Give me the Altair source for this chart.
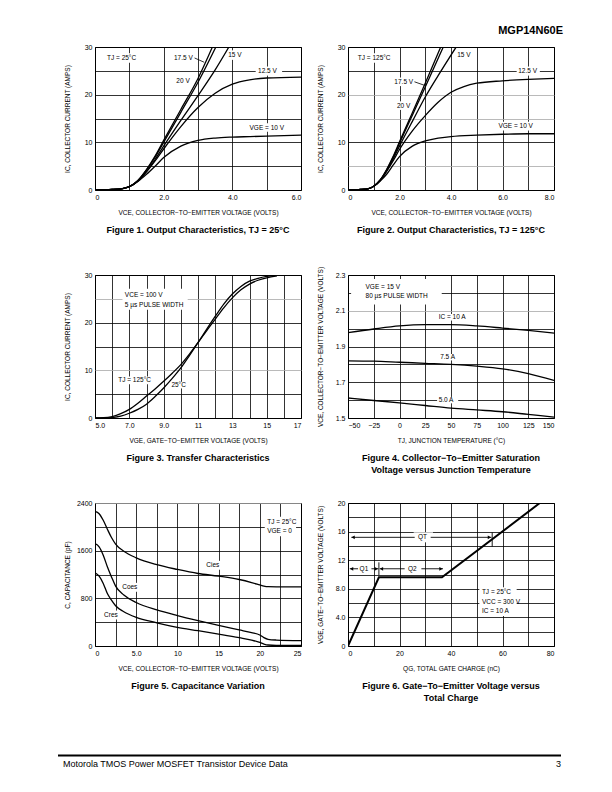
import altair as alt
import pandas as pd

FONT = "Liberation Sans"
W, H = 206, 143

# ---------------- Figure 1: Output characteristics, TJ = 25 C ----------------
f1_20_x = [0, 0.5, 0.8, 1.0, 1.25, 1.5, 1.75, 2.0, 2.5, 3.0, 3.42]
f1_20_y = [0, 0.1, 0.3, 0.7, 2.0, 4.3, 7.1, 10.4, 16.9, 23.4, 30]
f1_175_x = [0, 0.5, 0.8, 1.0, 1.25, 1.5, 1.75, 2.0, 2.5, 3.0, 3.52]
f1_175_y = [0, 0.1, 0.3, 0.7, 2.0, 4.2, 6.9, 10.0, 16.3, 22.6, 30]
f1_15_x = [0, 0.5, 0.8, 1.0, 1.25, 1.5, 1.75, 2.0, 2.5, 3.0, 3.5, 3.9]
f1_15_y = [0, 0.1, 0.3, 0.7, 1.9, 3.9, 6.4, 9.2, 14.6, 19.8, 25.2, 30]
f1_125_x = [0, 0.5, 0.8, 1.0, 1.25, 1.5, 1.75, 2.0, 2.5, 3.0, 3.5, 4.0, 4.5, 5.0, 6.0]
f1_125_y = [0, 0.1, 0.3, 0.7, 1.9, 3.8, 6.1, 8.6, 13.3, 17.3, 20.3, 22.2, 23.1, 23.5, 23.7]
f1_10_x = [0, 0.5, 0.8, 1.0, 1.25, 1.5, 1.75, 2.0, 2.5, 3.0, 3.5, 4.0, 4.5, 5.0, 6.0]
f1_10_y = [0, 0.1, 0.3, 0.7, 1.8, 3.3, 5.0, 6.8, 9.2, 10.4, 10.9, 11.1, 11.2, 11.3, 11.5]
f1_lbl_x = [0.35, 2.3, 3.88, 4.75, 2.37, 4.5]
f1_lbl_y = [27.7, 27.7, 28.3, 24.9, 22.8, 13.1]
f1_lbl_t = ["TJ = 25°C", "17.5 V", "15 V", "12.5 V", "20 V", "VGE = 10 V"]
f1_box = ([0.3, 3.83, 4.68, 4.45], [1.35, 4.35, 5.45, 5.55], [26.7, 27.3, 24.0, 12.2], [28.7, 29.3, 25.9, 14.0])
f1_lead = ([2.9], [3.18], [27.7], [26.8])
f1_xgrid = [0, 1, 2, 3, 4, 5, 6]
f1_xlab_v = [0, 2, 4, 6]
f1_xlab_t = ["0", "2.0", "4.0", "6.0"]

# ---------------- Figure 2: Output characteristics, TJ = 125 C ----------------
f2_20_x = [0, 0.5, 0.8, 1.0, 1.25, 1.5, 1.75, 2.0, 2.5, 3.0, 3.6]
f2_20_y = [0, 0.1, 0.3, 0.8, 2.1, 4.3, 7.0, 10.1, 16.2, 22.4, 30]
f2_175_x = [0, 0.5, 0.8, 1.0, 1.25, 1.5, 1.75, 2.0, 2.5, 3.0, 3.7]
f2_175_y = [0, 0.1, 0.3, 0.8, 2.1, 4.2, 6.8, 9.8, 15.7, 21.6, 30]
f2_15_x = [0, 0.5, 0.8, 1.0, 1.25, 1.5, 1.75, 2.0, 2.5, 3.0, 3.5, 4.2]
f2_15_y = [0, 0.1, 0.3, 0.8, 2.0, 4.0, 6.5, 9.2, 14.4, 19.5, 24.0, 30]
f2_125_x = [0, 0.5, 0.8, 1.0, 1.25, 1.5, 1.75, 2.0, 2.5, 3.0, 3.5, 4.0, 4.5, 5.0, 6.0, 7.0, 8.0]
f2_125_y = [0, 0.1, 0.3, 0.8, 2.0, 3.9, 6.1, 8.5, 12.4, 15.6, 18.4, 20.5, 21.7, 22.4, 22.9, 23.2, 23.4]
f2_10_x = [0, 0.5, 0.8, 1.0, 1.25, 1.5, 1.75, 2.0, 2.5, 3.0, 3.5, 4.0, 5.0, 6.0, 7.0, 8.0]
f2_10_y = [0, 0.1, 0.3, 0.8, 1.9, 3.3, 5.2, 7.0, 9.2, 10.3, 10.9, 11.2, 11.5, 11.7, 11.8, 11.8]
f2_lbl_x = [0.38, 4.24, 6.61, 1.8, 1.9, 5.84]
f2_lbl_y = [27.7, 28.3, 24.9, 22.7, 17.7, 13.4]
f2_lbl_t = ["TJ = 125°C", "15 V", "12.5 V", "17.5 V", "20 V", "VGE = 10 V"]
f2_box = ([0.33, 6.55, 1.75, 1.85, 5.8], [1.8, 7.45, 2.55, 2.5, 7.2], [26.7, 24.0, 21.8, 16.8, 12.5], [28.7, 25.9, 23.6, 18.6, 14.3])
f2_lead = ([2.58], [2.95], [22.7], [22.0])
f2_xgrid = [0, 1, 2, 3, 4, 5, 6, 7, 8]
f2_xlab_v = [0, 2, 4, 6, 8]
f2_xlab_t = ["0", "2.0", "4.0", "6.0", "8.0"]
ic_grid = [0, 5, 10, 15, 20, 25, 30]
ic_lab_v = [0, 10, 20, 30]
ic_lab_t = ["0", "10", "20", "30"]

# ---------------- Figure 3: Transfer characteristics ----------------
f3_x = [5.0, 5.5, 6.0, 6.5, 7.0, 7.5, 8.0, 8.5, 9.0, 9.5, 10.0, 10.5, 11.0, 11.5, 12.0, 12.5, 13.0, 13.5, 14.0, 14.5, 15.0, 15.6]
f3_125 = [0, 0.05, 0.3, 0.9, 1.8, 3.1, 4.6, 6.1, 7.7, 9.4, 11.2, 13.4, 15.8, 18.3, 20.7, 23.1, 25.2, 26.9, 28.1, 28.9, 29.4, 29.8]
f3_25 = [0, 0.02, 0.1, 0.4, 1.0, 1.8, 2.9, 4.5, 6.3, 8.3, 10.5, 13.1, 15.8, 18.6, 21.3, 23.9, 26.0, 27.6, 28.7, 29.3, 29.7, 29.95]
f3_lbl_x = [6.74, 6.74, 6.35, 9.45]
f3_lbl_y = [25.9, 23.8, 7.9, 6.9]
f3_lbl_t = ["VCE = 100 V", "5 µs PULSE WIDTH", "TJ = 125°C", "25°C"]
f3_box = ([6.6, 6.2, 9.3], [10.4, 8.6, 10.35], [22.7, 7.1, 6.2], [27.1, 8.7, 7.6])
f3_xgrid = [5, 6, 7, 8, 9, 10, 11, 12, 13, 14, 15, 16, 17]
f3_xlab_v = [5, 7, 9, 11, 13, 15, 17]
f3_xlab_t = ["5.0", "7.0", "9.0", "11", "13", "15", "17"]

# ---------------- Figure 4: VCE(sat) vs junction temperature ----------------
f4_x = [-50, -25, 0, 25, 50, 75, 100, 125, 150]
f4_10 = [1.978, 1.998, 2.015, 2.022, 2.022, 2.015, 2.003, 1.99, 1.975]
f4_75 = [1.82, 1.818, 1.812, 1.806, 1.8, 1.79, 1.775, 1.748, 1.71]
f4_50 = [1.612, 1.598, 1.585, 1.57, 1.555, 1.545, 1.535, 1.52, 1.505]
f4_lbl_x = [-33, -33, 38, 39.5, 38]
f4_lbl_y = [2.234, 2.181, 2.063, 1.84, 1.60]
f4_lbl_t = ["VGE = 15 V", "80 µs PULSE WIDTH", "IC = 10 A", "7.5 A", "5.0 A"]
f4_box = ([-47, 36, 38, 36.5], [41, 66, 57, 57], [2.135, 2.045, 1.822, 1.582], [2.277, 2.082, 1.858, 1.618])
f4_xgrid = [-50, -25, 0, 25, 50, 75, 100, 125, 150]
f4_xlab_t = ["−50", "−25", "0", "25", "50", "75", "100", "125", "150"]
f4_ygrid = [1.5, 1.6, 1.7, 1.8, 1.9, 2.0, 2.1, 2.2, 2.3]
f4_ylab_v = [1.5, 1.7, 1.9, 2.1, 2.3]
f4_ylab_t = ["1.5", "1.7", "1.9", "2.1", "2.3"]

# ---------------- Figure 5: Capacitance variation ----------------
f5_x = [0, 0.5, 1.0, 1.5, 2.0, 2.5, 3.5, 5.0, 7.5, 10, 12.5, 15, 17.5, 19, 20, 20.5, 21, 22, 25]
f5_cies = [2260, 2220, 2110, 1960, 1820, 1710, 1590, 1480, 1365, 1285, 1217, 1172, 1116, 1065, 1025, 1005, 995, 993, 993]
f5_coes = [1720, 1665, 1525, 1330, 1160, 1005, 855, 730, 605, 510, 425, 345, 270, 225, 185, 140, 112, 100, 90]
f5_cres = [1228, 1172, 1050, 880, 770, 675, 575, 480, 390, 312, 257, 200, 140, 100, 60, 33, 17, 12, 12]
f5_lbl_x = [20.9, 20.9, 13.5, 3.3, 1.1]
f5_lbl_y = [2082, 1931, 1356, 983, 519]
f5_lbl_t = ["TJ = 25°C", "VGE = 0", "Cies", "Coes", "Cres"]
f5_box = ([20.6, 13.3, 3.1, 0.9], [24.4, 15.4, 5.3, 2.8], [1840, 1280, 910, 445], [2170, 1430, 1060, 595])
f5_xgrid = [0, 2.5, 5, 7.5, 10, 12.5, 15, 17.5, 20, 22.5, 25]
f5_xlab_v = [0, 5, 10, 15, 20, 25]
f5_xlab_t = ["0", "5.0", "10", "15", "20", "25"]
f5_ygrid = [0, 400, 800, 1200, 1600, 2000, 2400]
f5_ylab_v = [0, 800, 1600, 2400]
f5_ylab_t = ["0", "800", "1600", "2400"]

# ---------------- Figure 6: Gate charge ----------------
f6_q = [0, 12, 36.5, 74.5]
f6_v = [0, 9.6, 9.6, 20]
f6_lbl_x = [27.2, 4.5, 23.3, 52, 52, 52]
f6_lbl_y = [15.2, 10.8, 10.8, 7.5, 6.2, 4.95]
f6_lbl_t = ["QT", "Q1", "Q2", "TJ = 25°C", "VCC = 300 V", "IC = 10 A"]
f6_box = ([25.5, 3.8, 22.0, 51.0], [33.0, 9.0, 28.5, 65.5], [14.5, 10.1, 10.1, 4.2], [15.9, 11.5, 11.5, 8.2])
f6_arr_x0 = [1.3, 32.1, 0.7, 9.1, 12.3, 28.5]
f6_arr_x1 = [25.9, 55.7, 3.9, 11.8, 22.0, 36.9]
f6_arr_y = [15.2, 15.2, 10.8, 10.8, 10.8, 10.8]
f6_headL_x = [2.0, 1.4, 13.0]
f6_headL_y = [15.2, 10.8, 10.8]
f6_headR_x = [54.9, 11.0, 36.1]
f6_headR_y = [15.2, 10.8, 10.8]
f6_tick_x = [12, 56]
f6_tick_y0 = [9.9, 13.9]
f6_tick_y1 = [11.7, 15.9]
f6_xgrid = [0, 10, 20, 30, 40, 50, 60, 70, 80]
f6_xlab_v = [0, 20, 40, 60, 80]
f6_xlab_t = ["0", "20", "40", "60", "80"]
f6_ygrid = [0, 2, 4, 6, 8, 10, 12, 14, 16, 18, 20]
f6_ylab_v = [0, 4, 8, 12, 16, 20]
f6_ylab_t = ["0", "4.0", "8.0", "12", "16", "20"]

header_text = "MGP14N60E"
footer_left = "Motorola TMOS Power MOSFET Transistor Device Data"
footer_right = "3"

T_IC = "IC, COLLECTOR CURRENT (AMPS)"
T_VCE = "VCE, COLLECTOR−TO−EMITTER VOLTAGE (VOLTS)"


def curves(pairs):
    rows = []
    for name, xs, ys in pairs:
        for i, (a, b) in enumerate(zip(xs, ys)):
            rows.append({"s": name, "i": i, "x": a, "y": b})
    return pd.DataFrame(rows)


def lab_expr(vals, texts):
    parts = [f"abs(datum.value - ({v})) < 1e-6 ? '{t}'" for v, t in zip(vals, texts)]
    return " : ".join(parts) + " : ''"


def gcolor(gray):
    if not gray:
        return "black"
    test = " || ".join(f"abs(datum.value - ({v})) < 1e-6" for v in gray)
    return {"condition": {"test": test, "value": "#a8a8a8"}, "value": "black"}


def make_axis(orient, grid_vals, lab_vals, lab_txt, title, gray=()):
    kw = dict(values=grid_vals, labelExpr=lab_expr(lab_vals, lab_txt), grid=True,
              ticks=False, domain=False, title=title, labelOverlap=False,
              gridColor=gcolor(gray))
    if orient == "y":
        kw.update(titleX=-24.5)
    else:
        kw.update(titlePadding=9.5)
    return alt.Axis(**kw)


class Enc:
    def __init__(self, xdom, ydom, xax, yax):
        self.xs = alt.Scale(domain=xdom, nice=False, zero=False)
        self.ys = alt.Scale(domain=ydom, nice=False, zero=False)
        self.xax = xax
        self.yax = yax

    def X(self, f):
        return alt.X(f + ":Q", scale=self.xs, axis=self.xax)

    def Y(self, f):
        return alt.Y(f + ":Q", scale=self.ys, axis=self.yax)


def panel(df, xdom, ydom, xax, yax, labels, boxes, caption, interp="monotone",
          lw=1.3, extra=None):
    e = Enc(xdom, ydom, xax, yax)
    lx, ly, lt = labels
    bx0, bx1, by0, by1 = boxes
    box = alt.Chart(pd.DataFrame({"x0": bx0, "x1": bx1, "y0": by0, "y1": by1})).mark_rect(
        color="white").encode(x=e.X("x0"), x2="x1:Q", y=e.Y("y0"), y2="y1:Q")
    line = alt.Chart(df).mark_line(color="black", strokeWidth=lw, interpolate=interp,
                                   clip=True).encode(
        x=e.X("x"), y=e.Y("y"), detail="s:N", order="i:Q")
    text = alt.Chart(pd.DataFrame({"x": lx, "y": ly, "t": lt})).mark_text(
        align="left", baseline="middle", font=FONT, fontSize=6.5, color="black").encode(
        x=e.X("x"), y=e.Y("y"), text="t:N")
    layers = [box, line]
    if extra:
        layers += extra(e)
    layers.append(text)
    return alt.layer(*layers).properties(
        width=W, height=H,
        title=alt.TitleParams(text=caption, orient="bottom", anchor="middle", font=FONT,
                              fontSize=9, fontWeight="bold", color="black", offset=10,
                              lineHeight=11.5))


def leader(lead):
    def f(e):
        x0, x1, y0, y1 = lead
        return [alt.Chart(pd.DataFrame({"x0": x0, "x1": x1, "y0": y0, "y1": y1})).mark_rule(
            color="black", strokeWidth=0.8).encode(
            x=e.X("x0"), x2="x1:Q", y=e.Y("y0"), y2="y1:Q")]
    return f


def fig2_extra(e):
    hdr = alt.Chart(pd.DataFrame({"t": [header_text]})).mark_text(
        align="right", baseline="middle", font=FONT, fontSize=11, fontWeight="bold",
        color="black").encode(x=alt.value(215), y=alt.value(-16), text="t:N")
    return leader(f2_lead)(e) + [hdr]


def fig6_extra(e):
    arr = alt.Chart(pd.DataFrame({"x0": f6_arr_x0, "x1": f6_arr_x1, "y": f6_arr_y})).mark_rule(
        color="black", strokeWidth=0.9).encode(x=e.X("x0"), x2="x1:Q", y=e.Y("y"))
    tick = alt.Chart(pd.DataFrame({"x": f6_tick_x, "y0": f6_tick_y0, "y1": f6_tick_y1})).mark_rule(
        color="black", strokeWidth=0.9).encode(x=e.X("x"), y=e.Y("y0"), y2="y1:Q")
    hl = alt.Chart(pd.DataFrame({"x": f6_headL_x, "y": f6_headL_y})).mark_point(
        shape="triangle-left", filled=True, size=14, color="black", opacity=1).encode(
        x=e.X("x"), y=e.Y("y"))
    hr = alt.Chart(pd.DataFrame({"x": f6_headR_x, "y": f6_headR_y})).mark_point(
        shape="triangle-right", filled=True, size=14, color="black", opacity=1).encode(
        x=e.X("x"), y=e.Y("y"))
    return [arr, tick, hl, hr]


p1 = panel(curves([("20", f1_20_x, f1_20_y), ("17.5", f1_175_x, f1_175_y),
                   ("15", f1_15_x, f1_15_y), ("12.5", f1_125_x, f1_125_y),
                   ("10", f1_10_x, f1_10_y)]),
           [0, 6], [0, 30],
           make_axis("x", f1_xgrid, f1_xlab_v, f1_xlab_t, T_VCE),
           make_axis("y", ic_grid, ic_lab_v, ic_lab_t, T_IC),
           (f1_lbl_x, f1_lbl_y, f1_lbl_t), f1_box,
           "Figure 1. Output Characteristics, TJ = 25°C", extra=leader(f1_lead))

p2 = panel(curves([("20", f2_20_x, f2_20_y), ("17.5", f2_175_x, f2_175_y),
                   ("15", f2_15_x, f2_15_y), ("12.5", f2_125_x, f2_125_y),
                   ("10", f2_10_x, f2_10_y)]),
           [0, 8], [0, 30],
           make_axis("x", f2_xgrid, f2_xlab_v, f2_xlab_t, T_VCE),
           make_axis("y", ic_grid, ic_lab_v, ic_lab_t, T_IC, gray=(5, 15, 20)),
           (f2_lbl_x, f2_lbl_y, f2_lbl_t), f2_box,
           "Figure 2. Output Characteristics, TJ = 125°C", extra=fig2_extra)

p3 = panel(curves([("125", f3_x, f3_125), ("25", f3_x, f3_25)]),
           [5, 17], [0, 30],
           make_axis("x", f3_xgrid, f3_xlab_v, f3_xlab_t, "VGE, GATE−TO−EMITTER VOLTAGE (VOLTS)"),
           make_axis("y", ic_grid, ic_lab_v, ic_lab_t, T_IC, gray=(10, 25)),
           (f3_lbl_x, f3_lbl_y, f3_lbl_t), f3_box,
           "Figure 3. Transfer Characteristics")

p4 = panel(curves([("10", f4_x, f4_10), ("7.5", f4_x, f4_75), ("5", f4_x, f4_50)]),
           [-50, 150], [1.5, 2.3],
           make_axis("x", f4_xgrid, f4_xgrid, f4_xlab_t, "TJ, JUNCTION TEMPERATURE (°C)"),
           make_axis("y", f4_ygrid, f4_ylab_v, f4_ylab_t, T_VCE, gray=(2.1,)),
           (f4_lbl_x, f4_lbl_y, f4_lbl_t), f4_box,
           ["Figure 4. Collector−To−Emitter Saturation", "Voltage versus Junction Temperature"])

p5 = panel(curves([("cies", f5_x, f5_cies), ("coes", f5_x, f5_coes), ("cres", f5_x, f5_cres)]),
           [0, 25], [0, 2400],
           make_axis("x", f5_xgrid, f5_xlab_v, f5_xlab_t, T_VCE),
           make_axis("y", f5_ygrid, f5_ylab_v, f5_ylab_t, "C, CAPACITANCE (pF)", gray=(2400,)),
           (f5_lbl_x, f5_lbl_y, f5_lbl_t), f5_box,
           "Figure 5. Capacitance Variation")

p6 = panel(curves([("qg", f6_q, f6_v)]),
           [0, 80], [0, 20],
           make_axis("x", f6_xgrid, f6_xlab_v, f6_xlab_t, "QG, TOTAL GATE CHARGE (nC)"),
           make_axis("y", f6_ygrid, f6_ylab_v, f6_ylab_t, "VGE, GATE−TO−EMITTER VOLTAGE (VOLTS)"),
           (f6_lbl_x, f6_lbl_y, f6_lbl_t), f6_box,
           ["Figure 6. Gate−To−Emitter Voltage versus", "Total Charge"],
           interp="linear", lw=2, extra=fig6_extra)

fb = alt.Chart(pd.DataFrame({"left": [footer_left], "right": [footer_right]}))
footer = alt.layer(
    fb.mark_rule(color="black", strokeWidth=2).encode(
        x=alt.value(-37), x2=alt.value(466), y=alt.value(24.5)),
    fb.mark_text(align="left", baseline="middle", font=FONT, fontSize=9, color="black").encode(
        x=alt.value(-32), y=alt.value(33), text="left:N"),
    fb.mark_text(align="right", baseline="middle", font=FONT, fontSize=9, color="black").encode(
        x=alt.value(466), y=alt.value(33), text="right:N"),
).properties(width=W, height=20, view=alt.ViewBackground(stroke="transparent"))

chart = alt.concat(
    p1, p2, p3, p4, p5, p6, footer,
    columns=2, spacing={"row": 85, "column": 47}, bounds="flush"
).properties(
    padding={"left": 48, "top": 16, "right": 5, "bottom": 5},
    background="white",
).configure_view(
    stroke="black", strokeWidth=1
).configure_axis(
    labelFont=FONT, titleFont=FONT, labelFontSize=7, titleFontSize=6.5,
    titleFontWeight="normal", labelColor="black", titleColor="black",
    gridWidth=0.8, gridOpacity=1, labelPadding=3
)

chart.save("out.html", embed_options={"renderer": "svg", "actions": False})
